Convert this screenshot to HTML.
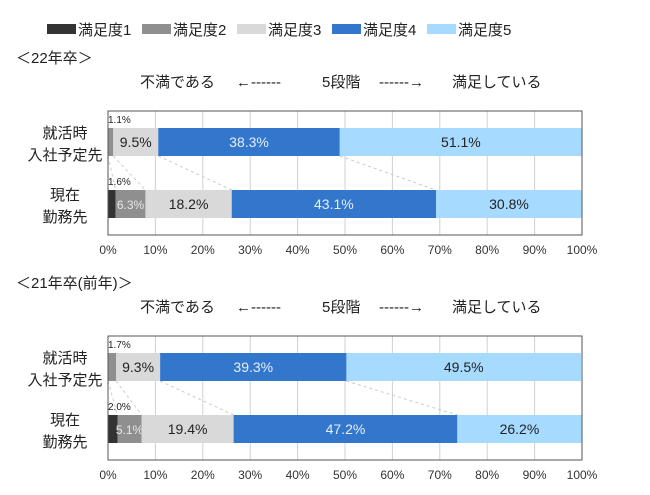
<!DOCTYPE html>
<html><head><meta charset="utf-8"><style>
body{margin:0;background:#fff;}
svg{display:block;font-family:"Liberation Sans","Noto Sans CJK JP",sans-serif;}
</style></head><body>
<svg id="c" width="650" height="495"></svg>
<script>
const categories=["就活時入社予定先","現在勤務先"];
const seriesNames=["満足度1","満足度2","満足度3","満足度4","満足度5"];
const colors=["#333333","#8f8f8f","#d9d9d9","#3377cc","#a6dbff"];
const y22Planned=[0,1.1,9.5,38.3,51.1];
const y22Current=[1.6,6.3,18.2,43.1,30.8];
const y21Planned=[0,1.7,9.3,39.3,49.5];
const y21Current=[2.0,5.1,19.4,47.2,26.2];
const ticks=[0,10,20,30,40,50,60,70,80,90,100];
const NS="http://www.w3.org/2000/svg";
const svg=document.getElementById('c');
function el(t,a,txt){const e=document.createElementNS(NS,t);for(const k in a)e.setAttribute(k,a[k]);if(txt!==undefined)e.textContent=txt;svg.appendChild(e);return e;}
const X0=108,X1=582;
const xs=v=>X0+(X1-X0)*v/100;
// legend
seriesNames.forEach((n,i)=>{
  const lx=47+i*95;
  let r=el('rect',{x:lx,y:24,width:29,height:10,fill:colors[i]});
  
  
  let t=el('text',{x:lx+31,y:35,'font-size':15,fill:'#222'},n);
  
  
});
function chart(top,title,rows,key){
  const bottom=top+124;
  let t=el('text',{x:16,y:top-48,'font-size':15,fill:'#222'},title);
  
  
  const sub=[["不満である",140],["←------",236],["5段階",322],["------→",379],["満足している",452]];
  sub.forEach(s=>{let e=el('text',{x:s[1],y:top-24,'font-size':15,fill:'#222'},s[0]);
    
    });
  ticks.forEach(v=>{
    if(v>0&&v<100){let g=el('line',{x1:xs(v),x2:xs(v),y1:top,y2:bottom,stroke:'#d0d0d0','stroke-width':1});
      
      }
    let tl=el('text',{x:xs(v),y:bottom+19,'font-size':12,'text-anchor':'middle',fill:'#333'},v+'%');
    
    
  });
  const barY=[top+17,top+79],bh=28;
  const cum=rows.map(r=>{let c=[],s=0;r.forEach(v=>{s+=v;c.push(s);});return c;});
  for(let i=0;i<4;i++){
    let l=el('line',{x1:xs(cum[0][i]),y1:barY[0]+bh,x2:xs(cum[1][i]),y2:barY[1],stroke:'#ccc','stroke-dasharray':'3,3'});
    
    
  }
  let rl=el('line',{x1:X1,y1:barY[0]+bh,x2:X1,y2:barY[1],stroke:'#666','stroke-dasharray':'2,2'});
  
  
  rows.forEach((r,ri)=>{
    let s=0;
    r.forEach((v,si)=>{
      if(v>0){
        let b=el('rect',{x:xs(s),y:barY[ri],width:xs(s+v)-xs(s),height:bh,fill:colors[si]});
        
        
        let cx=(xs(s)+xs(s+v))/2;
        let lbl=v.toFixed(1)+'%';
        let txt;
        if(v<3){
          txt=el('text',{x:X0,y:barY[ri]-5,'font-size':10,fill:'#222'},lbl);
        }else{
          const light=(si===3||si===1);
          txt=el('text',{x:cx,y:barY[ri]+19,'font-size':v<7?12:14,'text-anchor':'middle',fill:light?(si===1?'#e8e8e8':'#e6eefc'):'#222'},lbl);
        }
        
        
      }
      s+=v;
    });
  });
  const yl=[["就活時","入社予定先"],["現在","勤務先"]];
  yl.forEach((ls,i)=>{
    ls.forEach((s,j)=>{
      let e=el('text',{x:65,y:barY[i]+10+j*22,'font-size':15,'text-anchor':'middle',fill:'#222'},s);
      
      
    });
  });
  let box=el('rect',{x:X0,y:top,width:X1-X0,height:bottom-top,fill:'none',stroke:'#555','stroke-width':1});
  
  
}
chart(111,"＜22年卒＞",[y22Planned,y22Current],'chart-22');
chart(336,"＜21年卒(前年)＞",[y21Planned,y21Current],'chart-21');
</script>
</body></html>
